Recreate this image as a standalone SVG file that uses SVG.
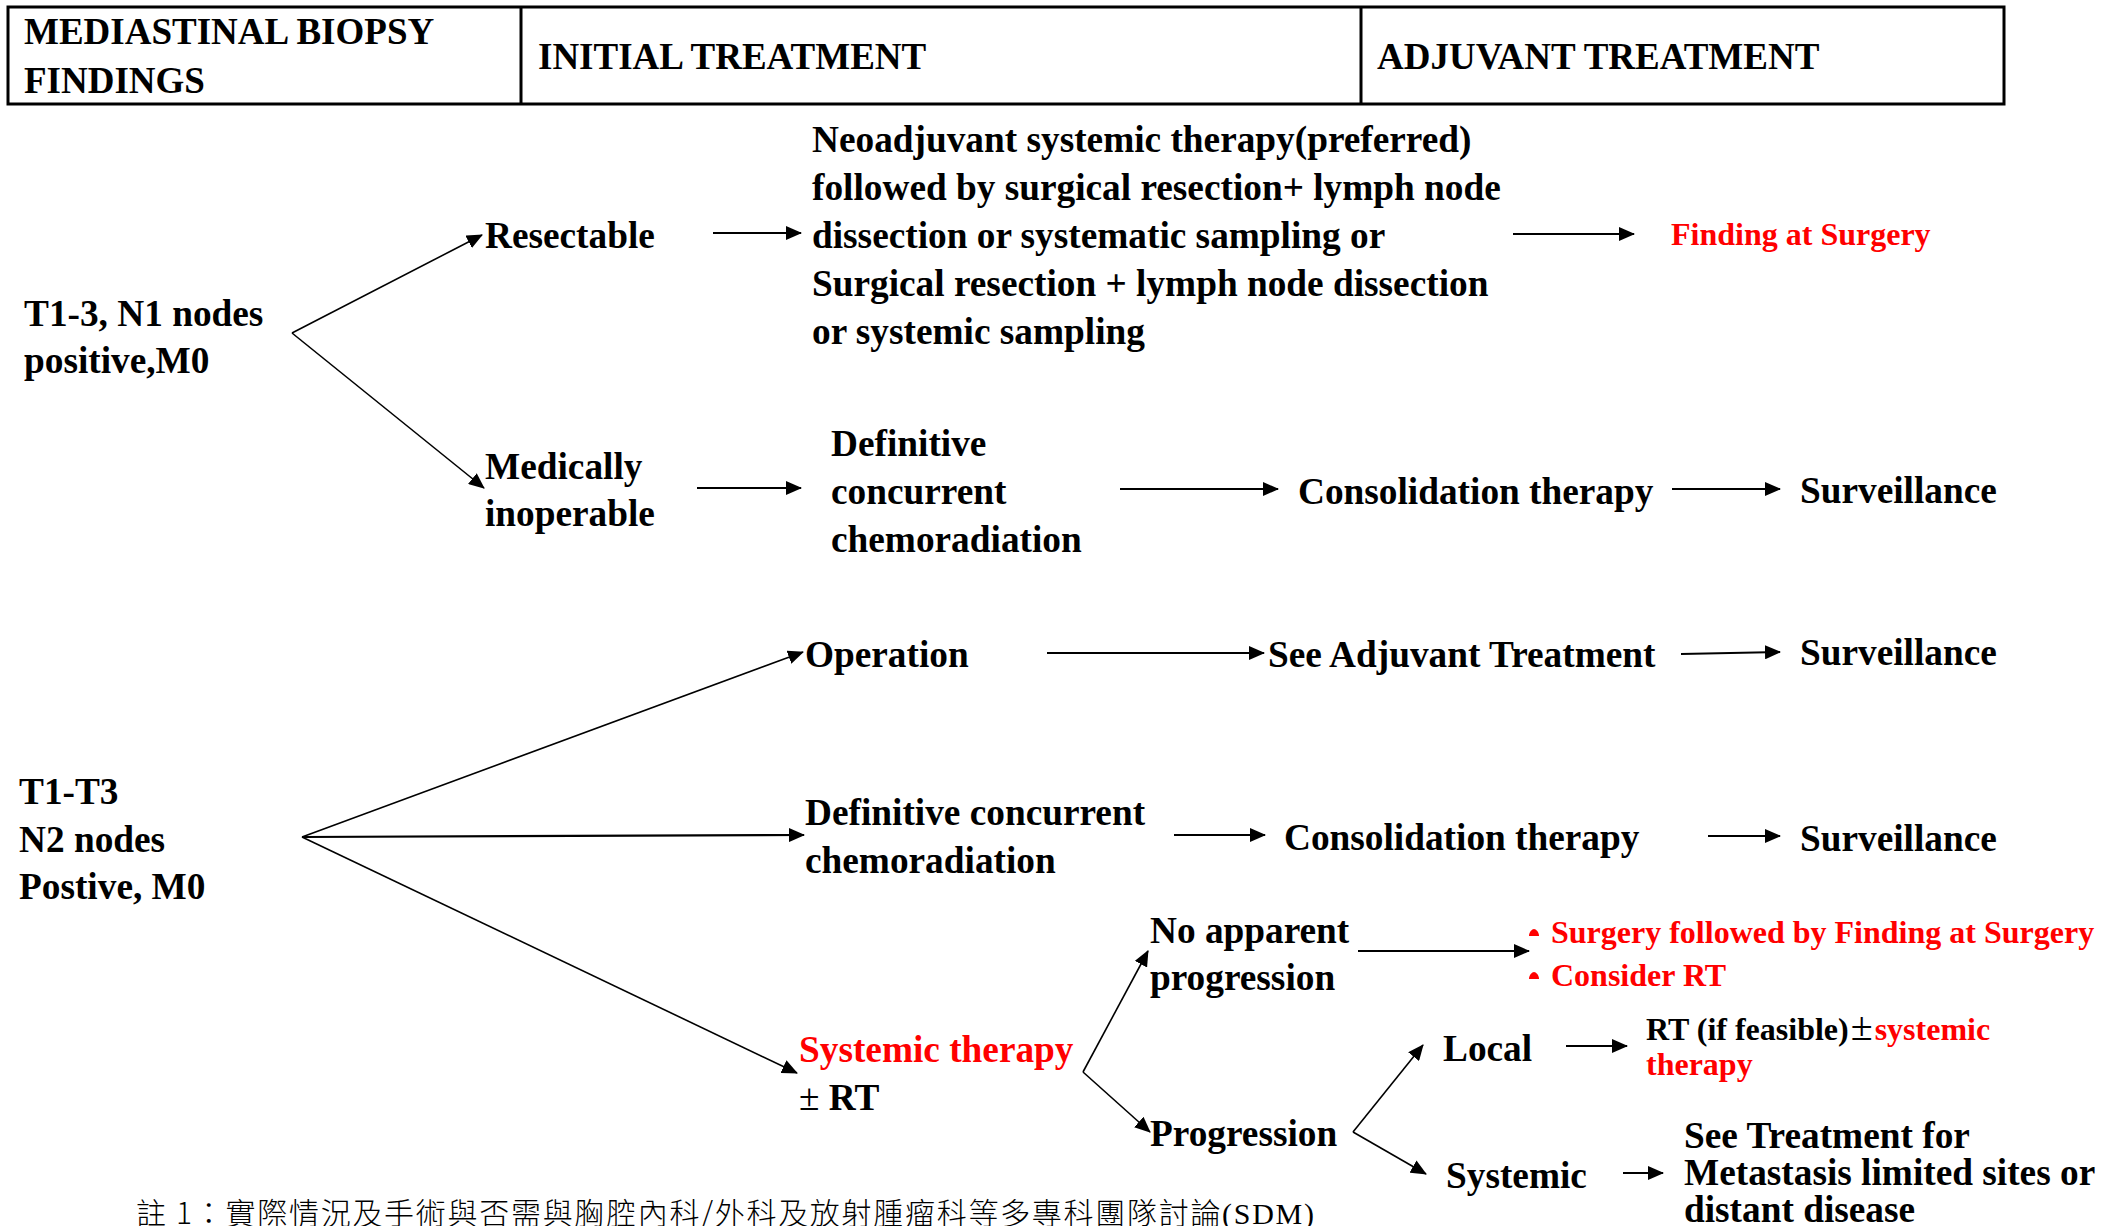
<svg xmlns="http://www.w3.org/2000/svg" width="2113" height="1226" viewBox="0 0 2113 1226">
  <style>
    .t { font-family: "Liberation Serif", "Times New Roman", serif; font-weight: bold; font-size: 37.3px; fill: #000; }
    .hdr { font-size: 37px; }
    .sm { font-size: 32px; }
    .red { fill: #ff0000; }
    .pm { font-weight: normal; }
    .frame { fill: none; stroke: #000; stroke-width: 3; }
    .link { fill: none; stroke: #000; stroke-width: 1.6; marker-end: url(#ah); }
    .link2 { fill: none; stroke: #000; stroke-width: 2.2; marker-end: url(#ah); }
    .bullet { fill: #ff0000; }
    .note { font-family: "Noto Sans CJK TC", "Noto Sans CJK SC", sans-serif; font-weight: 300; font-size: 30px; fill: #000; }
    .noteLatin { font-family: "Liberation Serif", serif; font-weight: normal; }
  </style>
  <defs>
    <marker id="ah" viewBox="0 0 16 14" refX="15" refY="7" markerWidth="16" markerHeight="14" markerUnits="userSpaceOnUse" orient="auto">
      <path d="M0,0 L16,7 L0,14 Z" fill="#000"/>
    </marker>
    <path id="dot" d="M-5,3 C-5,-1 -2,-4 0,-4 C2,-4 5,-1 5,3 Z"/>
  </defs>
  <rect width="2113" height="1226" fill="#fff"/>

  <!-- column header -->
  <g id="header">
    <rect class="frame" x="8" y="7" width="1996" height="97"/>
    <line class="frame" x1="521" y1="7" x2="521" y2="104"/>
    <line class="frame" x1="1361" y1="7" x2="1361" y2="104"/>
    <text class="t hdr" x="24" y="44">MEDIASTINAL BIOPSY</text>
    <text class="t hdr" x="24" y="93">FINDINGS</text>
    <text class="t hdr" x="538" y="69">INITIAL TREATMENT</text>
    <text class="t hdr" x="1377" y="69">ADJUVANT TREATMENT</text>
  </g>

  <!-- N1 branch -->
  <g id="n1-stage"><text class="t" x="24" y="326">T1-3, N1 nodes</text><text class="t" x="24" y="373">positive,M0</text></g>
  <g id="resectable"><text class="t" x="485" y="248">Resectable</text></g>
  <g id="inoperable"><text class="t" x="485" y="479">Medically</text><text class="t" x="485" y="526">inoperable</text></g>
  <g id="neoadjuvant">
    <text class="t" x="812" y="152">Neoadjuvant systemic therapy(preferred)</text>
    <text class="t" x="812" y="200">followed by surgical resection+ lymph node</text>
    <text class="t" x="812" y="248">dissection or systematic sampling or</text>
    <text class="t" x="812" y="296">Surgical resection + lymph node dissection</text>
    <text class="t" x="812" y="344">or systemic sampling</text>
  </g>
  <g id="finding-surgery"><text class="t sm red" x="1671" y="245">Finding at Surgery</text></g>
  <g id="def-crt-1"><text class="t" x="831" y="456">Definitive</text><text class="t" x="831" y="504">concurrent</text><text class="t" x="831" y="552">chemoradiation</text></g>
  <g id="consolidation-1"><text class="t" x="1298" y="504">Consolidation therapy</text></g>
  <g id="surveillance-1"><text class="t" x="1800" y="503">Surveillance</text></g>

  <!-- N2 branch -->
  <g id="n2-stage"><text class="t" x="19" y="804">T1-T3</text><text class="t" x="19" y="852">N2 nodes</text><text class="t" x="19" y="899">Postive, M0</text></g>
  <g id="operation"><text class="t" x="805" y="667">Operation</text></g>
  <g id="see-adjuvant"><text class="t" x="1268" y="667">See Adjuvant Treatment</text></g>
  <g id="surveillance-2"><text class="t" x="1800" y="665">Surveillance</text></g>
  <g id="def-crt-2"><text class="t" x="805" y="825">Definitive concurrent</text><text class="t" x="805" y="873">chemoradiation</text></g>
  <g id="consolidation-2"><text class="t" x="1284" y="850">Consolidation therapy</text></g>
  <g id="surveillance-3"><text class="t" x="1800" y="851">Surveillance</text></g>
  <g id="systemic-rt"><text class="t red" x="799" y="1062">Systemic therapy</text><text class="t" x="799" y="1110"><tspan class="pm">±</tspan> RT</text></g>
  <g id="no-progression"><text class="t" x="1150" y="943">No apparent</text><text class="t" x="1150" y="990">progression</text></g>
  <g id="surgery-options">
    <use href="#dot" class="bullet" x="1534" y="933"/>
    <use href="#dot" class="bullet" x="1534" y="976"/>
    <text class="t sm red" x="1551" y="943">Surgery followed by Finding at Surgery</text>
    <text class="t sm red" x="1551" y="986">Consider RT</text>
  </g>
  <g id="progression"><text class="t" x="1150" y="1146">Progression</text></g>
  <g id="local"><text class="t" x="1443" y="1061">Local</text></g>
  <g id="local-rt"><text class="t sm" x="1646" y="1040">RT (if feasible)<tspan class="pm" dx="2" font-size="40">±</tspan><tspan class="red" dx="2">systemic</tspan></text><text class="t sm red" x="1646" y="1075">therapy</text></g>
  <g id="systemic"><text class="t" x="1446" y="1188">Systemic</text></g>
  <g id="metastasis"><text class="t" x="1684" y="1148">See Treatment for</text><text class="t" x="1684" y="1185">Metastasis limited sites or</text><text class="t" x="1684" y="1222">distant disease</text></g>

  <!-- footnote -->
  <g id="footnote"><text class="note" x="136" y="1224" textLength="1178" lengthAdjust="spacing">註 1：實際情況及手術與否需與胸腔內科/外科及放射腫瘤科等多專科團隊討論<tspan class="noteLatin">(SDM)</tspan></text></g>

  <g id="connectors">
    <line class="link" x1="292" y1="333" x2="482" y2="235"/>
    <line class="link" x1="292" y1="333" x2="484" y2="488"/>
    <line class="link2" x1="713" y1="233" x2="801" y2="233"/>
    <line class="link2" x1="697" y1="488" x2="801" y2="488"/>
    <line class="link2" x1="1513" y1="234" x2="1634" y2="234"/>
    <line class="link2" x1="1120" y1="489" x2="1278" y2="489"/>
    <line class="link2" x1="1672" y1="489" x2="1780" y2="489"/>
    <line class="link" x1="302" y1="837" x2="803" y2="652"/>
    <line class="link2" x1="302" y1="837" x2="804" y2="835"/>
    <line class="link" x1="302" y1="837" x2="797" y2="1073"/>
    <line class="link2" x1="1047" y1="653" x2="1264" y2="653"/>
    <line class="link2" x1="1681" y1="654" x2="1780" y2="652"/>
    <line class="link2" x1="1174" y1="835" x2="1265" y2="835"/>
    <line class="link2" x1="1708" y1="836" x2="1780" y2="836"/>
    <line class="link" x1="1083" y1="1072" x2="1148" y2="951"/>
    <line class="link" x1="1083" y1="1072" x2="1150" y2="1132"/>
    <line class="link2" x1="1358" y1="951" x2="1529" y2="951"/>
    <line class="link" x1="1353" y1="1132" x2="1423" y2="1045"/>
    <line class="link" x1="1353" y1="1132" x2="1426" y2="1174"/>
    <line class="link2" x1="1566" y1="1046" x2="1627" y2="1046"/>
    <line class="link2" x1="1623" y1="1173" x2="1663" y2="1173"/>
  </g>
</svg>
